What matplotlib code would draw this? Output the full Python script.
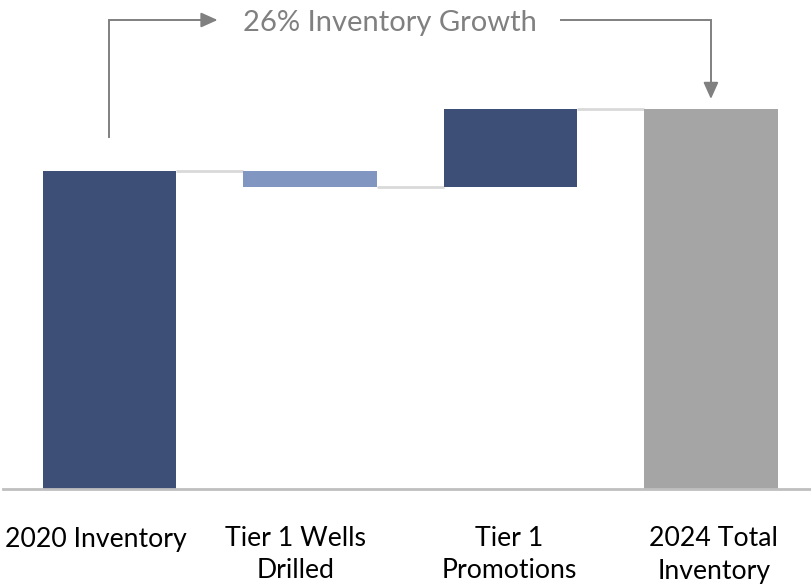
import numpy as np
import matplotlib
matplotlib.use("Agg")
import matplotlib.pyplot as plt
from matplotlib.transforms import blended_transform_factory, offset_copy

# waterfall data (arbitrary units)
categories = ["2020 Inventory", "Tier 1 Wells\nDrilled", "Tier 1\nPromotions", "2024 Total\nInventory"]
changes = [1590, -80, 390, 1900]
kinds = ["total", "delta", "delta", "total"]
growth_label = "26% Inventory Growth"

navy = "#3d4f76"
light_blue = "#8196c1"
gray_bar = "#a5a5a5"
conn_color = "#d9d9d9"
arrow_color = "#808080"

plt.rcParams["font.family"] = ["Lato", "DejaVu Sans"]

fig = plt.figure(figsize=(8.12, 5.87), dpi=100)
ax = fig.add_axes([3 / 812, (587 - 489) / 587, 1 - 3 / 812, 489 / 587])

x = np.arange(len(categories))
width = 0.665

# compute bottoms / tops of each bar
bottoms, heights, colors = [], [], []
level = 0
for i, (v, k) in enumerate(zip(changes, kinds)):
    if k == "total":
        bottoms.append(0)
        heights.append(v)
        level = v
        colors.append(navy if i == 0 else gray_bar)
    else:
        new = level + v
        bottoms.append(min(level, new))
        heights.append(abs(v))
        colors.append(navy if v > 0 else light_blue)
        level = new

ax.bar(x, heights, width, bottom=bottoms, color=colors, zorder=2)

# connector lines between bars
level = 0
for i in range(len(changes) - 1):
    level = changes[i] if kinds[i] == "total" else level + changes[i]
    ax.plot([x[i] + width / 2, x[i + 1] - width / 2], [level, level],
            color=conn_color, lw=2, zorder=1, solid_capstyle="butt")

ax.set_xlim(-0.53, 3.504)
ax.set_ylim(0, 2445)

for s in ["top", "right", "left"]:
    ax.spines[s].set_visible(False)
ax.spines["bottom"].set_color("#bfbfbf")
ax.spines["bottom"].set_linewidth(2)
ax.set_yticks([])
ax.set_xticks([])

# category labels under the axis (slightly shifted like the original)
label_shift = [-10, -10, -1, 2]  # points
lab_trans = blended_transform_factory(ax.transData, ax.transAxes)
for xi, lab, dx in zip(x, categories, label_shift):
    t = offset_copy(lab_trans, fig=fig, x=dx, y=-27, units="points")
    ax.text(xi, 0, lab, transform=t, ha="center", va="top", fontsize=19.2,
            color="black", linespacing=1.35, multialignment="center")

# growth arrow bracket
y_top = 2345
y_start = 1760
ax.plot([x[0], x[0], 0.465], [y_start, y_top, y_top], color=arrow_color, lw=1.4,
        clip_on=False, solid_joinstyle="miter")
ax.annotate("", xy=(0.54, y_top), xytext=(0.46, y_top),
            arrowprops=dict(arrowstyle="-|>,head_length=1.0,head_width=0.45",
                            color=arrow_color, lw=1.4, shrinkA=0, shrinkB=0))
ax.plot([2.25, x[3], x[3]], [y_top, y_top, 2000], color=arrow_color, lw=1.4,
        clip_on=False, solid_joinstyle="miter")
ax.annotate("", xy=(x[3], 1950), xytext=(x[3], 2010),
            arrowprops=dict(arrowstyle="-|>,head_length=1.0,head_width=0.45",
                            color=arrow_color, lw=1.4, shrinkA=0, shrinkB=0))
ax.text(1.4, 2330, growth_label, ha="center", va="center", fontsize=21,
        color=arrow_color)

fig.savefig("out.png", dpi=100)
